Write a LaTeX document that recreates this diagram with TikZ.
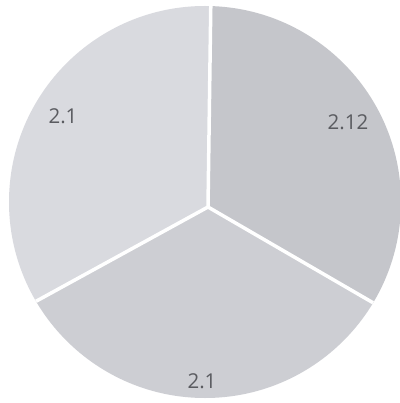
\documentclass[tikz,border=0pt]{standalone}
\usepackage{fontspec}
\setmainfont{Open Sans}
\definecolor{secUL}{HTML}{D9DADF}
\definecolor{secR}{HTML}{C5C6CB}
\definecolor{secB}{HTML}{CDCED3}
\definecolor{lbl}{HTML}{5A5B60}
\tikzset{
  divider/.style={draw=white, line width=3.5pt, line cap=round},
  lab/.style={text=lbl, font=\fontsize{20.5}{22}\selectfont, inner sep=0pt}
}
\begin{document}
\begin{tikzpicture}[x=1pt,y=-1pt]
\useasboundingbox (0,0) rectangle (399,403);
\fill[white] (0,0) rectangle (399,403);
\coordinate (c) at (208,207);
\coordinate (top) at (211,-10);
\coordinate (rt) at (420,330);
\coordinate (lf) at (-20,332);
\begin{scope}
  \clip (205,202) circle (196);
  \fill[secUL] (c) -- (top) -- (-20,-10) -- (lf) -- cycle;
  \fill[secR] (c) -- (top) -- (420,-10) -- (rt) -- cycle;
  \fill[secB] (c) -- (rt) -- (420,420) -- (-20,420) -- (lf) -- cycle;
  \draw[divider] (c) -- (top);
  \draw[divider] (c) -- (rt);
  \draw[divider] (c) -- (lf);
\end{scope}
\node[lab] (a) at (63,116) {2.1};
\node[lab] (b) at (348,122) {2.12};
\node[lab] (d) at (202,381) {2.1};
\end{tikzpicture}
\end{document}
